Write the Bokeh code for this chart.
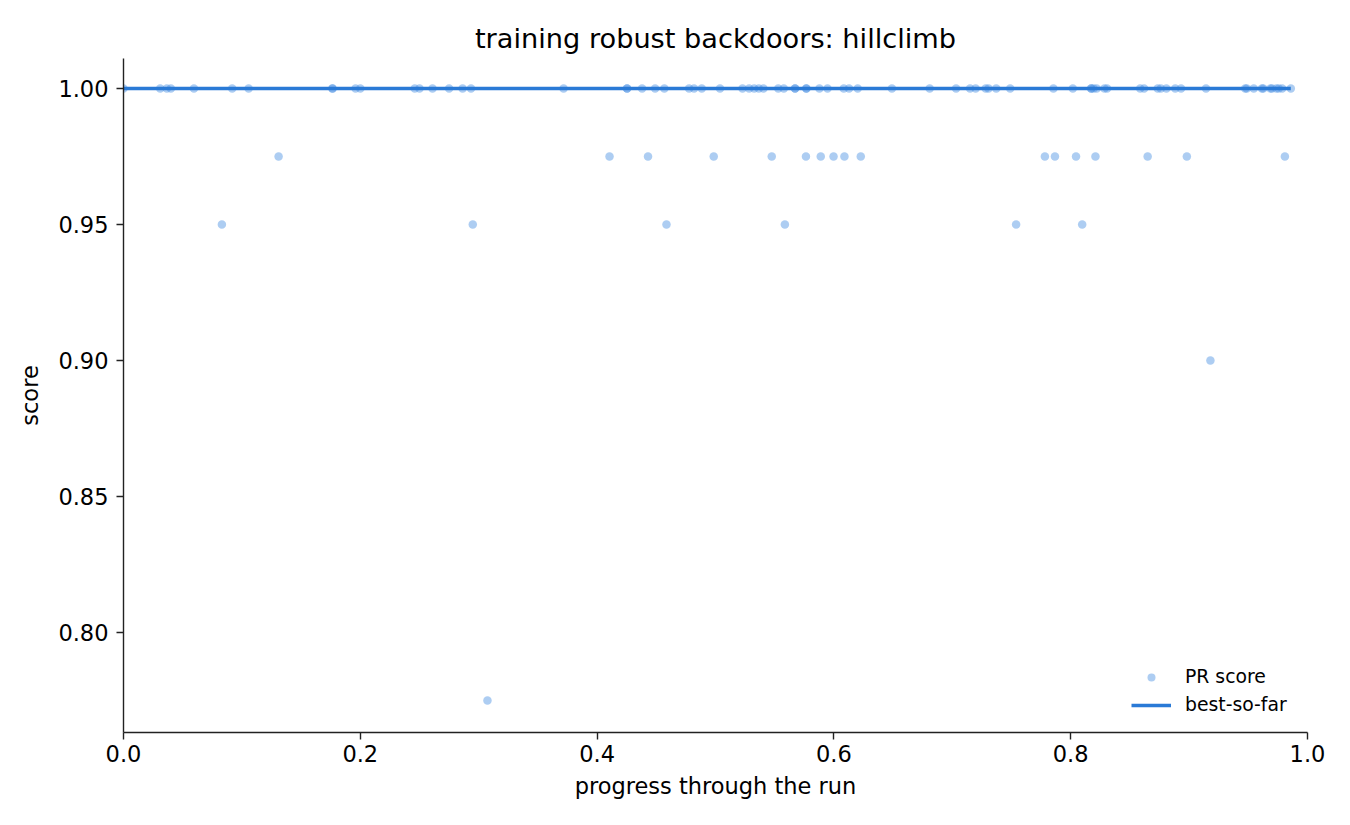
import numpy as np
from bokeh.plotting import figure
from bokeh.models import Range1d, FixedTicker, PrintfTickFormatter, Legend, LegendItem
from bokeh.embed import file_html
from bokeh.resources import INLINE

# --- data ---
x_score_100 = [0.0, 0.031, 0.0366, 0.040, 0.0595, 0.0918, 0.1057, 0.1765, 0.1765, 0.196,
               0.200, 0.246, 0.250, 0.261, 0.275, 0.2864, 0.2935, 0.3717, 0.4253, 0.4253,
               0.438, 0.449, 0.4568, 0.4777, 0.4819, 0.4884, 0.5038, 0.5228, 0.5284, 0.5327,
               0.5366, 0.5405, 0.553, 0.5577, 0.5672, 0.5672, 0.5767, 0.5767, 0.5878, 0.5946,
               0.6083, 0.6128, 0.6201, 0.649, 0.6809, 0.7032, 0.715, 0.7197, 0.7282, 0.7306,
               0.7371, 0.7489, 0.7854, 0.8018, 0.8173, 0.8173, 0.8193, 0.8219, 0.8285, 0.8307,
               0.8587, 0.862, 0.8735, 0.8761, 0.8808, 0.8883, 0.8932, 0.9143, 0.9474, 0.9487,
               0.9546, 0.9615, 0.9627, 0.9687, 0.970, 0.9737, 0.9757, 0.9786, 0.9859]
x_score_0975 = [0.131, 0.4105, 0.443, 0.4985, 0.5475, 0.5764, 0.5889, 0.5997, 0.6089, 0.6227,
                0.7782, 0.7867, 0.8045, 0.8209, 0.865, 0.8981, 0.9809]
x_score_095 = [0.0831, 0.295, 0.4586, 0.5586, 0.7539, 0.8097]
x_score_090 = [0.918]
x_score_0775 = [0.3074]

score_levels = [1.0, 0.975, 0.95, 0.90, 0.775]
x_groups = [x_score_100, x_score_0975, x_score_095, x_score_090, x_score_0775]

x_ticks = [0.0, 0.2, 0.4, 0.6, 0.8, 1.0]
y_ticks = [0.80, 0.85, 0.90, 0.95, 1.00]

# build the point table
xs, ys = [], []
for lvl, grp in zip(score_levels, x_groups):
    xs.extend(grp)
    ys.extend([lvl] * len(grp))
order = np.argsort(xs, kind="stable")
xs = np.array(xs)[order]
ys = np.array(ys)[order]
best = np.maximum.accumulate(ys)

FONT = "DejaVu Sans"

p = figure(width=1334, height=809, output_backend="svg", toolbar_location=None,
           x_range=Range1d(0, 1), y_range=Range1d(0.7632, 1.011),
           min_border_left=123, min_border_right=27, min_border_top=58, min_border_bottom=77,
           title="training robust backdoors: hillclimb")
p.title.align = "center"
p.title.text_font = FONT
p.title.text_font_size = "27.2px"
p.title.text_font_style = "normal"
p.title.text_color = "#000000"
p.title.standoff = 9

p.outline_line_color = None
p.grid.visible = False
p.background_fill_color = "white"
p.border_fill_color = "white"

for ax in (p.xaxis[0], p.yaxis[0]):
    ax.axis_line_color = "#222222"
    ax.axis_line_width = 1.4
    ax.major_tick_line_color = "#222222"
    ax.major_tick_line_width = 1.4
    ax.major_tick_in = 0
    ax.major_tick_out = 7
    ax.minor_tick_line_color = None
    ax.major_label_text_font = FONT
    ax.major_label_text_font_size = "22.5px"
    ax.major_label_text_color = "#000000"
    ax.axis_label_text_font = FONT
    ax.axis_label_text_font_size = "22.5px"
    ax.axis_label_text_font_style = "normal"
    ax.axis_label_text_color = "#000000"

p.xaxis.ticker = FixedTicker(ticks=x_ticks)
p.yaxis.ticker = FixedTicker(ticks=y_ticks)
p.xaxis.formatter = PrintfTickFormatter(format="%.1f")
p.yaxis.formatter = PrintfTickFormatter(format="%.2f")
p.xaxis.axis_label = "progress through the run"
p.yaxis.axis_label = "score"
p.xaxis.major_label_standoff = 5
p.yaxis.major_label_standoff = 8
p.xaxis.axis_label_standoff = 8
p.yaxis.axis_label_standoff = 12

sc = p.scatter(xs, ys, size=8.5, fill_color="#4a90e2", fill_alpha=0.45, line_color=None)
ln = p.line(xs, best, line_color="#2a7ad6", line_width=3.5)

legend = Legend(items=[LegendItem(label="PR score", renderers=[sc]),
                       LegendItem(label="best-so-far", renderers=[ln])],
                location="bottom_right")
legend.border_line_color = None
legend.background_fill_alpha = 0
legend.label_text_font = FONT
legend.label_text_font_size = "18.8px"
legend.label_text_color = "#000000"
legend.glyph_width = 40
legend.glyph_height = 20
legend.label_height = 20
legend.label_width = 105
legend.label_standoff = 14
legend.spacing = 7
legend.padding = 8
legend.margin = 17
p.add_layout(legend)

open("out.html", "w").write(file_html(p, INLINE))
